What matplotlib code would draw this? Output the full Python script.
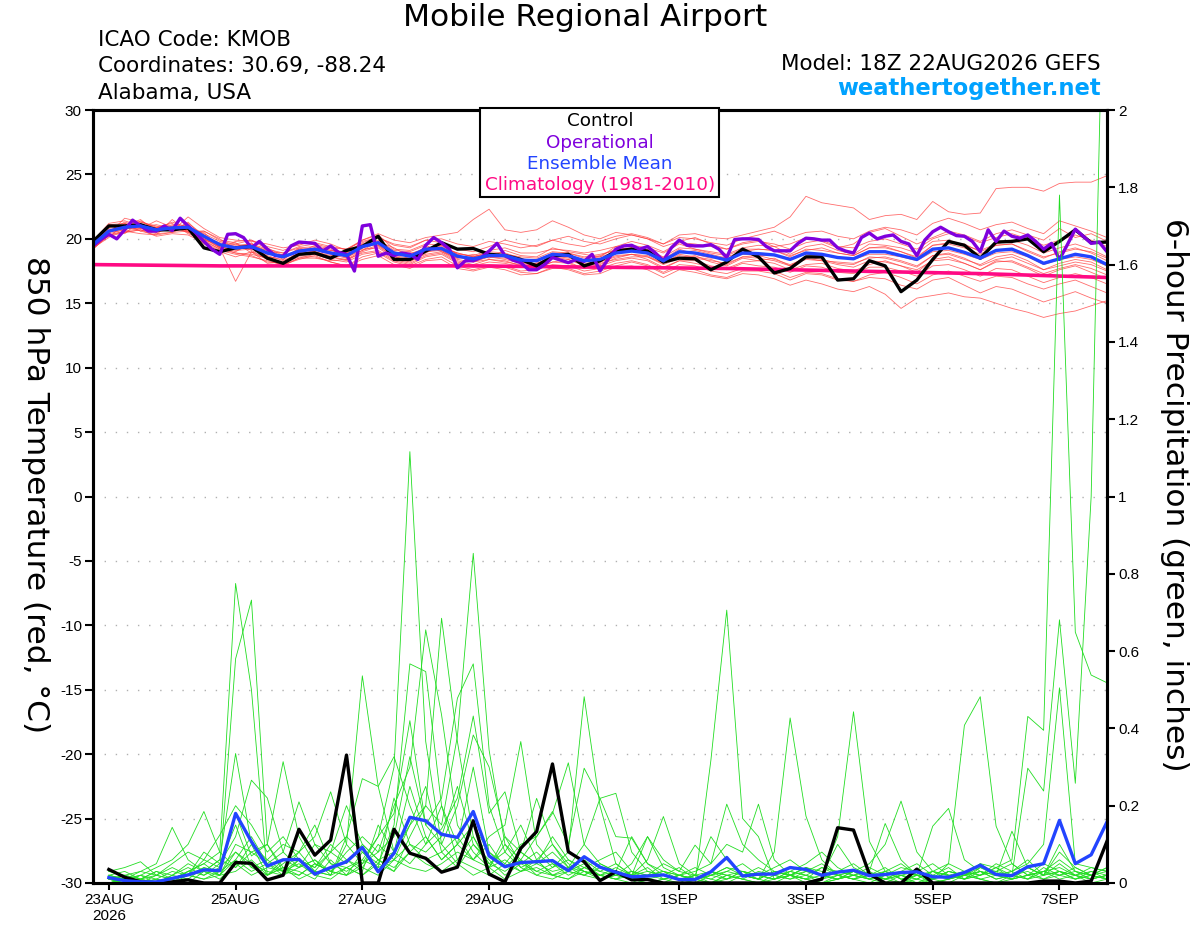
import numpy as np
import matplotlib
matplotlib.use('Agg')
import matplotlib.pyplot as plt
from matplotlib.patches import Rectangle

plt.rcParams['font.family'] = ['Liberation Sans', 'DejaVu Sans']
plt.rcParams['axes.unicode_minus'] = False

# Time axis: hours after 18Z 22AUG2026
hours6 = np.arange(0, 385, 6)      # ensemble / control / mean
hours3 = np.arange(0, 385, 3)      # operational
hours_day = np.arange(0, 385, 24)  # climatology
hours_precip = hours6[1:]

date_ticks = [6, 54, 102, 150, 222, 270, 318, 366]
date_labels = ['23AUG\n2026', '25AUG', '27AUG', '29AUG', '1SEP', '3SEP', '5SEP', '7SEP']

# 850 hPa temperature (C)
temp_control = [19.8, 21.0, 21.0, 21.1, 20.7, 20.7, 20.85, 19.3, 19.0, 19.3,
                19.4, 18.5, 18.1, 18.8, 18.9, 18.5, 19.1, 19.4, 20.2, 18.4,
                18.4, 19.05, 19.7, 19.2, 19.25, 18.8, 18.7, 18.4, 17.9, 18.65,
                18.8, 17.9, 18.3, 19.05, 19.2, 19.05, 18.2, 18.5, 18.45, 17.6,
                18.2, 19.2, 18.6, 17.35, 17.7, 18.6, 18.6, 16.8, 16.9, 18.3,
                17.9, 15.9, 16.8, 18.4, 19.8, 19.5, 18.5, 19.75, 19.8, 20.0,
                19.0, 19.8, 20.7, 19.7, 19.75]

temp_mean = [19.55, 20.6, 20.9, 21.0, 20.7, 20.85, 20.9, 20.2, 19.55, 19.3,
             19.4, 18.9, 18.6, 19.05, 19.2, 18.9, 18.7, 19.4, 19.7, 18.9,
             18.65, 19.2, 19.25, 18.65, 18.45, 18.7, 18.7, 18.35, 18.3, 18.8,
             18.7, 18.3, 18.4, 18.9, 19.05, 18.9, 18.3, 19.0, 18.9, 18.65,
             18.35, 18.9, 18.85, 18.75, 18.4, 18.9, 18.8, 18.55, 18.45, 19.0,
             19.0, 18.7, 18.4, 19.2, 19.3, 18.95, 18.5, 19.1, 19.2, 18.7,
             18.1, 18.45, 18.8, 18.6, 18.0]

temp_oper = [19.45, 19.95, 20.35, 20.0, 20.7, 21.45, 21.0, 20.6, 20.6, 21.0,
             20.65, 21.6, 21.0, 20.45, 19.8, 19.2, 18.8, 20.35, 20.4, 20.1,
             19.3, 19.8, 19.2, 18.7, 18.65, 19.45, 19.75, 19.7, 19.65, 19.05,
             19.45, 18.95, 18.8, 17.5, 21.0, 21.1, 18.65, 18.9, 18.7, 18.9,
             18.8, 18.4, 19.5, 20.1, 19.7, 19.2, 17.75, 18.3, 18.3, 18.55,
             19.05, 19.65, 18.7, 18.35, 18.15, 17.6, 17.6, 18.0, 18.55, 18.35,
             18.15, 18.4, 18.25, 18.8, 17.5, 18.4, 19.2, 19.45, 19.5, 19.2,
             19.4, 18.9, 18.3, 19.3, 19.9, 19.5, 19.45, 19.45, 19.55, 19.2,
             18.55, 19.95, 20.0, 20.0, 19.95, 19.4, 19.07, 19.07, 19.07, 19.65,
             20.05, 20.0, 19.9, 19.9, 19.3, 19.05, 18.9, 20.1, 20.45, 20.0,
             20.2, 20.3, 19.8, 19.6, 18.7, 19.9, 20.55, 20.9, 20.55, 20.25,
             20.2, 19.8, 19.0, 20.7, 19.8, 20.6, 20.2, 20.05, 20.3, 19.8,
             19.2, 19.65, 18.4, 19.55, 20.75, 20.2, 19.65, 19.75, 19.0]

temp_clim = [18.0, 17.95, 17.9, 17.9, 17.9, 17.9, 17.9, 17.85, 17.8,
             17.75, 17.7, 17.6, 17.5, 17.4, 17.3, 17.15, 17.0]

temp_members = [
    [19.8, 21.2, 21.4, 21.0, 20.8, 21.3, 20.9, 20.4, 19.8, 19.6,
     19.9, 19.2, 18.9, 19.4, 19.6, 19.3, 19.2, 19.8, 20.1, 19.5,
     19.3, 19.9, 20.0, 19.6, 19.4, 19.8, 19.6, 19.3, 19.5, 19.9,
     19.6, 19.4, 19.8, 20.2, 20.4, 20.1, 19.6, 20.3, 20.4, 20.1,
     20.0, 20.3, 20.6, 20.9, 21.7, 23.3, 22.8, 22.6, 22.4, 21.5,
     21.8, 21.9, 21.5, 22.9, 22.1, 21.9, 22.0, 23.9, 24.0, 24.0,
     23.7, 24.3, 24.4, 24.4, 24.9],
    [19.5, 20.4, 21.6, 21.3, 20.9, 20.6, 21.7, 20.8, 20.1, 19.9,
     19.8, 19.6, 19.3, 19.5, 19.9, 19.6, 19.1, 19.9, 20.4, 19.9,
     19.7, 20.1, 20.3, 20.5, 21.5, 22.3, 20.7, 20.5, 20.7, 21.4,
     20.9, 20.3, 20.0, 20.5, 20.3, 20.0, 19.4, 19.8, 20.1, 19.6,
     19.2, 19.7, 19.9, 19.4, 19.6, 20.1, 19.8, 19.3, 19.6, 20.5,
     20.8, 20.2, 19.6, 20.1, 20.6, 20.3, 19.8, 20.4, 20.7, 20.3,
     19.9, 20.8, 20.1, 20.4, 19.8],
    [19.2, 20.3, 20.5, 20.7, 20.2, 20.4, 20.3, 19.7, 19.1, 18.8,
     18.6, 18.3, 18.0, 18.4, 18.7, 18.2, 17.9, 18.6, 18.9, 18.2,
     17.9, 18.4, 18.6, 17.9, 17.6, 17.9, 17.8, 17.4, 17.3, 17.8,
     17.6, 17.2, 17.3, 17.8, 17.9, 17.6, 17.0, 17.6, 17.4, 17.1,
     16.9, 17.3, 17.2, 16.9, 16.4, 16.8, 16.5, 16.1, 15.9, 16.3,
     15.7, 14.6, 15.4, 15.6, 15.8, 15.5, 15.4, 15.0, 14.6, 14.3,
     13.9, 14.2, 14.4, 14.8, 15.2],
    [19.9, 21.0, 20.7, 21.3, 21.0, 20.6, 21.1, 20.0, 19.4, 19.0,
     19.7, 18.6, 18.4, 19.3, 18.9, 18.6, 18.3, 19.0, 19.4, 18.6,
     18.3, 18.8, 19.0, 18.3, 18.0, 18.4, 18.3, 17.9, 18.1, 18.5,
     18.2, 17.7, 18.0, 18.5, 18.8, 18.4, 17.8, 18.3, 18.3, 17.9,
     17.7, 18.2, 18.3, 18.1, 17.6, 18.0, 18.1, 17.7, 17.5, 18.0,
     18.3, 17.9, 17.4, 18.4, 18.6, 18.1, 17.6, 18.3, 18.2, 17.7,
     17.1, 17.6, 17.9, 17.4, 16.9],
    [19.3, 20.1, 21.2, 20.6, 20.3, 21.5, 20.5, 20.6, 19.9, 19.7,
     18.9, 19.3, 18.7, 18.9, 19.5, 19.2, 18.5, 19.6, 19.9, 19.1,
     19.0, 19.5, 19.0, 18.5, 18.8, 18.5, 19.1, 18.7, 18.6, 19.3,
     19.0, 18.8, 18.6, 19.4, 19.5, 19.3, 18.9, 19.6, 19.2, 19.0,
     18.8, 19.3, 19.5, 19.4, 18.8, 19.4, 19.6, 19.1, 18.8, 19.6,
     19.5, 19.3, 18.9, 19.8, 19.9, 19.5, 19.1, 19.6, 19.9, 19.5,
     18.9, 19.3, 19.6, 19.2, 18.6],
    [19.6, 20.8, 20.6, 20.8, 21.4, 20.9, 20.5, 19.8, 19.2, 19.6,
     19.1, 18.4, 18.8, 18.7, 18.8, 18.4, 18.9, 19.2, 19.3, 18.5,
     18.2, 18.9, 19.5, 18.8, 18.2, 18.4, 18.2, 18.0, 17.7, 18.2,
     18.4, 17.9, 18.1, 18.4, 18.6, 18.6, 18.0, 18.5, 18.7, 18.2,
     17.9, 18.5, 18.3, 18.5, 17.9, 18.6, 18.4, 18.1, 18.0, 18.6,
     18.5, 18.2, 17.8, 18.7, 18.9, 18.5, 17.9, 18.4, 18.6, 18.1,
     17.6, 17.9, 18.2, 18.0, 17.5],
    [19.4, 20.5, 21.0, 21.5, 20.5, 21.0, 20.6, 20.5, 19.3, 16.7,
     19.0, 18.1, 18.2, 18.9, 19.3, 19.0, 18.6, 19.1, 19.8, 19.3,
     18.6, 19.4, 19.1, 18.5, 18.6, 19.0, 18.9, 18.5, 18.2, 18.9,
     18.9, 18.6, 18.8, 19.1, 19.3, 18.8, 18.4, 19.2, 18.8, 18.5,
     18.6, 19.0, 19.2, 19.1, 18.7, 19.1, 19.3, 18.9, 18.7, 19.3,
     19.4, 19.0, 18.5, 19.5, 19.7, 19.6, 19.0, 19.5, 19.6, 19.0,
     18.5, 19.0, 19.3, 18.9, 18.3],
    [19.7, 20.9, 21.1, 20.6, 20.9, 20.7, 21.2, 20.3, 19.5, 19.4,
     19.5, 19.1, 18.4, 19.2, 19.0, 18.7, 18.9, 19.6, 19.5, 18.8,
     18.9, 19.1, 19.4, 18.9, 18.6, 18.9, 18.6, 18.3, 18.4, 18.7,
     18.5, 18.4, 18.6, 19.0, 19.0, 19.2, 18.5, 18.9, 19.1, 18.8,
     18.5, 18.8, 18.7, 18.7, 18.5, 18.8, 18.7, 18.6, 18.4, 18.8,
     18.8, 18.6, 18.3, 19.0, 19.1, 18.8, 18.4, 18.9, 19.0, 18.6,
     18.0, 18.4, 18.6, 18.4, 17.9],
    [19.5, 20.6, 20.8, 20.9, 20.6, 21.1, 20.8, 20.1, 19.7, 19.5,
     19.6, 19.0, 18.9, 19.3, 19.4, 19.1, 19.0, 19.7, 20.1, 19.6,
     19.4, 19.9, 19.7, 19.2, 19.0, 19.4, 19.9, 19.6, 19.4, 19.9,
     20.2, 19.8, 19.6, 20.0, 20.3, 20.0, 19.6, 20.1, 20.0, 19.7,
     19.5, 20.0, 20.3, 20.6, 20.1, 20.5, 20.6, 20.2, 20.0, 20.6,
     20.9, 20.7, 20.3, 21.2, 21.6, 21.2, 20.7, 21.1, 21.3, 20.8,
     20.4, 21.4, 21.0, 20.6, 20.1],
    [19.4, 20.2, 20.5, 20.7, 20.4, 20.5, 20.6, 19.9, 19.2, 18.9,
     18.8, 18.5, 18.0, 18.5, 18.8, 18.4, 18.2, 18.8, 19.0, 18.3,
     18.0, 18.6, 18.8, 18.1, 17.8, 18.0, 17.9, 17.5, 17.6, 18.0,
     17.9, 17.5, 17.7, 18.1, 18.3, 18.0, 17.4, 18.0, 17.9, 17.5,
     17.3, 17.7, 17.6, 17.5, 17.0, 17.4, 17.3, 16.9, 16.7, 17.2,
     17.4, 17.0, 16.5, 17.2, 17.5, 17.1, 16.7, 17.1, 17.0, 16.5,
     16.1, 16.5, 16.8, 16.3, 15.8],
    [19.9, 21.1, 21.2, 20.9, 21.1, 20.8, 20.6, 20.6, 20.0, 19.2,
     19.3, 18.8, 18.7, 19.0, 19.1, 18.8, 18.5, 19.3, 19.6, 18.7,
     18.5, 19.0, 19.2, 18.6, 18.3, 18.6, 18.5, 18.2, 18.0, 18.6,
     18.6, 18.1, 18.2, 18.7, 18.8, 18.7, 18.1, 18.8, 18.6, 18.4,
     18.0, 18.6, 18.7, 18.4, 18.0, 18.5, 18.3, 18.2, 18.1, 18.5,
     18.6, 18.3, 17.9, 18.7, 18.8, 18.4, 18.0, 18.6, 18.8, 18.3,
     17.6, 18.1, 18.4, 18.2, 17.6],
    [19.3, 20.4, 20.7, 21.1, 20.6, 21.0, 21.0, 20.3, 19.4, 19.1,
     19.2, 18.7, 18.3, 18.9, 19.0, 18.6, 18.4, 19.1, 19.5, 18.6,
     18.4, 19.0, 19.1, 18.4, 18.2, 18.6, 18.4, 18.1, 18.1, 18.6,
     18.4, 18.0, 18.2, 18.6, 18.8, 18.6, 18.1, 18.7, 18.5, 18.3,
     18.1, 18.6, 18.5, 18.3, 17.9, 18.4, 18.3, 18.0, 17.8, 18.3,
     18.2, 17.9, 17.6, 18.3, 18.4, 18.1, 17.6, 18.2, 18.3, 17.8,
     17.3, 17.7, 18.0, 17.7, 17.2],
    [19.7, 20.7, 20.4, 21.4, 20.8, 20.6, 21.3, 20.1, 19.3, 19.8,
     19.9, 19.4, 19.1, 19.6, 19.7, 19.4, 19.2, 19.9, 20.3, 19.2,
     19.1, 19.6, 19.5, 18.8, 18.7, 19.1, 19.3, 18.9, 18.9, 19.2,
     19.1, 18.9, 19.1, 19.4, 19.8, 19.5, 19.0, 19.7, 19.6, 19.4,
     19.2, 19.6, 19.8, 19.6, 19.2, 19.7, 19.9, 19.4, 19.3, 19.8,
     20.0, 19.6, 19.2, 20.0, 20.4, 20.2, 19.7, 20.1, 20.4, 20.0,
     19.5, 19.9, 20.3, 19.9, 19.4],
    [19.5, 20.5, 20.8, 20.8, 20.5, 20.8, 20.7, 20.0, 19.3, 18.9,
     18.7, 18.2, 18.1, 18.6, 18.6, 18.2, 17.9, 18.4, 18.7, 18.0,
     17.7, 18.3, 18.4, 17.7, 17.5, 17.8, 17.6, 17.2, 17.3, 17.7,
     17.7, 17.3, 17.5, 17.9, 18.2, 17.9, 17.3, 17.8, 17.6, 17.2,
     17.0, 17.5, 17.5, 17.3, 16.8, 17.3, 17.2, 16.8, 16.7, 17.0,
     16.9, 16.4, 16.1, 16.8, 17.0, 16.4, 15.8, 16.3, 16.1, 15.6,
     15.1, 15.5, 15.9, 15.4, 15.0],
    [19.8, 20.6, 21.3, 20.9, 20.9, 21.2, 20.4, 19.9, 19.6, 19.4,
     19.6, 19.2, 18.6, 19.2, 19.3, 19.1, 18.8, 19.5, 19.8, 19.0,
     18.8, 19.3, 19.3, 18.9, 18.6, 18.8, 18.8, 18.6, 18.5, 19.0,
     18.9, 18.5, 18.7, 19.2, 19.3, 19.1, 18.6, 19.3, 19.2, 18.9,
     18.7, 19.2, 19.2, 19.1, 18.6, 19.2, 19.1, 18.9, 18.7, 19.3,
     19.3, 19.0, 18.6, 19.5, 19.6, 19.3, 18.8, 19.5, 19.6, 19.1,
     18.6, 18.9, 19.2, 19.0, 18.5],
    [19.2, 20.3, 20.6, 20.4, 20.3, 20.5, 21.0, 19.6, 19.0, 18.6,
     19.0, 18.4, 17.9, 18.5, 18.5, 18.3, 18.4, 18.9, 19.1, 18.4,
     18.1, 18.7, 18.9, 18.2, 17.9, 18.2, 18.1, 17.8, 17.8, 18.2,
     18.1, 17.7, 17.9, 18.3, 18.5, 18.3, 17.7, 18.3, 18.1, 17.8,
     17.6, 18.1, 17.9, 17.8, 17.4, 17.9, 17.8, 17.4, 17.3, 17.8,
     17.8, 17.5, 17.1, 17.9, 18.0, 17.6, 17.1, 17.7, 17.6, 17.1,
     16.6, 17.0, 17.3, 17.0, 16.5],
]

# 6-hour precipitation (inches), from 00Z 23AUG
precip_control = [0.035, 0.015, 0.003, 0.0, 0.003, 0.008, 0.0, 0.0, 0.053, 0.051,
                  0.008, 0.02, 0.139, 0.072, 0.111, 0.331, 0.0, 0.0, 0.139, 0.077,
                  0.064, 0.028, 0.041, 0.161, 0.023, 0.003, 0.09, 0.133, 0.308, 0.081,
                  0.055, 0.006, 0.029, 0.008, 0.009, 0.0, 0.0, 0.0, 0.0, 0.0,
                  0.0, 0.0, 0.0, 0.0, 0.0, 0.01, 0.143, 0.137, 0.023, 0.0,
                  0.0, 0.036, 0.0, 0.0, 0.0, 0.0, 0.0, 0.0, 0.0, 0.005,
                  0.005, 0.0, 0.005, 0.108]

precip_mean = [0.014, 0.006, 0.003, 0.003, 0.012, 0.021, 0.034, 0.032, 0.18, 0.107,
               0.044, 0.06, 0.061, 0.023, 0.04, 0.055, 0.092, 0.029, 0.077, 0.17,
               0.161, 0.126, 0.118, 0.185, 0.07, 0.042, 0.053, 0.055, 0.058, 0.032,
               0.068, 0.041, 0.028, 0.016, 0.018, 0.021, 0.009, 0.009, 0.029, 0.066,
               0.018, 0.023, 0.023, 0.04, 0.035, 0.02, 0.028, 0.033, 0.019, 0.022,
               0.027, 0.029, 0.016, 0.015, 0.027, 0.046, 0.022, 0.019, 0.042, 0.05,
               0.162, 0.05, 0.073, 0.158]

precip_members = [
    [0.02, 0.01, 0.0, 0.0, 0.01, 0.03, 0.05, 0.08, 0.775, 0.50, 0.02, 0.04, 0.03, 0.01, 0.06, 0.02,
     0.05, 0.12, 0.30, 1.116, 0.366, 0.10, 0.05, 0.02, 0.04, 0.01, 0.03, 0.06, 0.02, 0.01, 0.04, 0.02,
     0.01, 0.0, 0.02, 0.03, 0.01, 0.0, 0.318, 0.706, 0.167, 0.12, 0.01, 0.03, 0.02, 0.0, 0.01, 0.02,
     0.03, 0.01, 0.02, 0.0, 0.01, 0.03, 0.02, 0.05, 0.04, 0.06, 0.431, 0.395, 1.78, 0.649, 0.538, 0.518],
    [0.01, 0.0, 0.02, 0.01, 0.0, 0.02, 0.04, 0.03, 0.58, 0.732, 0.10, 0.03, 0.05, 0.02, 0.01, 0.04,
     0.02, 0.06, 0.03, 0.12, 0.20, 0.15, 0.38, 0.853, 0.344, 0.10, 0.04, 0.02, 0.01, 0.03, 0.02, 0.01,
     0.02, 0.01, 0.0, 0.01, 0.02, 0.01, 0.0, 0.02, 0.03, 0.01, 0.0, 0.02, 0.04, 0.02, 0.12, 0.443,
     0.108, 0.03, 0.01, 0.02, 0.0, 0.01, 0.02, 0.03, 0.01, 0.02, 0.297, 0.238, 0.681, 0.258, 1.0, 2.8],
    [0.0, 0.01, 0.0, 0.02, 0.01, 0.0, 0.03, 0.06, 0.335, 0.10, 0.02, 0.05, 0.08, 0.03, 0.02, 0.10,
     0.536, 0.25, 0.08, 0.15, 0.20, 0.685, 0.366, 0.12, 0.05, 0.03, 0.06, 0.02, 0.04, 0.08, 0.482, 0.20,
     0.05, 0.02, 0.01, 0.0, 0.02, 0.01, 0.03, 0.02, 0.01, 0.0, 0.02, 0.01, 0.03, 0.05, 0.02, 0.01,
     0.0, 0.02, 0.04, 0.03, 0.01, 0.05, 0.408, 0.482, 0.147, 0.05, 0.02, 0.03, 0.01, 0.02, 0.0, 0.01],
    [0.03, 0.02, 0.01, 0.0, 0.02, 0.04, 0.02, 0.05, 0.12, 0.266, 0.22, 0.08, 0.04, 0.06, 0.03, 0.02,
     0.08, 0.05, 0.15, 0.567, 0.547, 0.20, 0.10, 0.06, 0.12, 0.15, 0.366, 0.10, 0.05, 0.03, 0.02, 0.04,
     0.02, 0.03, 0.01, 0.02, 0.01, 0.0, 0.02, 0.04, 0.02, 0.01, 0.08, 0.427, 0.173, 0.06, 0.02, 0.01,
     0.02, 0.03, 0.01, 0.0, 0.02, 0.01, 0.03, 0.02, 0.04, 0.01, 0.02, 0.05, 0.03, 0.02, 0.04, 0.03],
    [0.01, 0.0, 0.0, 0.01, 0.03, 0.02, 0.06, 0.04, 0.18, 0.07, 0.10, 0.314, 0.12, 0.05, 0.03, 0.08,
     0.12, 0.08, 0.20, 0.30, 0.655, 0.435, 0.15, 0.08, 0.04, 0.10, 0.06, 0.12, 0.18, 0.311, 0.10, 0.05,
     0.03, 0.02, 0.04, 0.01, 0.0, 0.02, 0.12, 0.06, 0.02, 0.01, 0.03, 0.02, 0.01, 0.04, 0.02, 0.03,
     0.01, 0.02, 0.0, 0.01, 0.03, 0.02, 0.01, 0.04, 0.02, 0.03, 0.05, 0.10, 0.505, 0.05, 0.04, 0.03],
    [0.0, 0.01, 0.02, 0.0, 0.01, 0.02, 0.01, 0.03, 0.06, 0.12, 0.05, 0.08, 0.21, 0.10, 0.05, 0.04,
     0.06, 0.12, 0.18, 0.42, 0.15, 0.22, 0.478, 0.567, 0.20, 0.08, 0.04, 0.06, 0.02, 0.03, 0.05, 0.02,
     0.04, 0.02, 0.06, 0.172, 0.05, 0.02, 0.01, 0.0, 0.02, 0.01, 0.03, 0.02, 0.0, 0.01, 0.02, 0.03,
     0.02, 0.01, 0.03, 0.02, 0.01, 0.0, 0.02, 0.03, 0.01, 0.02, 0.04, 0.02, 0.05, 0.02, 0.01, 0.02],
    [0.02, 0.03, 0.01, 0.02, 0.04, 0.02, 0.08, 0.05, 0.15, 0.04, 0.02, 0.06, 0.04, 0.10, 0.08, 0.12,
     0.27, 0.25, 0.327, 0.20, 0.10, 0.14, 0.22, 0.432, 0.18, 0.236, 0.08, 0.05, 0.03, 0.04, 0.10, 0.219,
     0.232, 0.08, 0.03, 0.02, 0.01, 0.02, 0.0, 0.01, 0.03, 0.02, 0.01, 0.02, 0.04, 0.02, 0.01, 0.03,
     0.05, 0.10, 0.212, 0.08, 0.03, 0.02, 0.01, 0.02, 0.03, 0.02, 0.01, 0.03, 0.02, 0.04, 0.02, 0.01],
    [0.0, 0.01, 0.02, 0.04, 0.06, 0.10, 0.185, 0.08, 0.04, 0.10, 0.06, 0.03, 0.08, 0.12, 0.236, 0.10,
     0.05, 0.08, 0.12, 0.327, 0.15, 0.10, 0.20, 0.383, 0.30, 0.12, 0.08, 0.219, 0.10, 0.05, 0.03, 0.02,
     0.01, 0.03, 0.02, 0.01, 0.02, 0.03, 0.05, 0.10, 0.08, 0.204, 0.06, 0.02, 0.01, 0.0, 0.02, 0.01,
     0.02, 0.01, 0.0, 0.02, 0.01, 0.03, 0.02, 0.01, 0.0, 0.02, 0.03, 0.01, 0.02, 0.03, 0.01, 0.02],
    [0.01, 0.02, 0.03, 0.05, 0.144, 0.06, 0.03, 0.02, 0.10, 0.08, 0.05, 0.03, 0.06, 0.04, 0.08, 0.20,
     0.10, 0.06, 0.04, 0.08, 0.12, 0.06, 0.10, 0.15, 0.08, 0.05, 0.10, 0.12, 0.185, 0.10, 0.297, 0.219,
     0.12, 0.116, 0.05, 0.03, 0.02, 0.01, 0.02, 0.04, 0.03, 0.02, 0.01, 0.03, 0.02, 0.04, 0.03, 0.02,
     0.01, 0.03, 0.05, 0.02, 0.147, 0.193, 0.06, 0.03, 0.02, 0.01, 0.02, 0.03, 0.04, 0.02, 0.03, 0.01],
    [0.02, 0.01, 0.03, 0.02, 0.05, 0.08, 0.06, 0.124, 0.20, 0.15, 0.08, 0.12, 0.06, 0.04, 0.10, 0.06,
     0.04, 0.10, 0.06, 0.15, 0.25, 0.08, 0.12, 0.06, 0.10, 0.04, 0.08, 0.05, 0.12, 0.06, 0.04, 0.03,
     0.05, 0.02, 0.12, 0.06, 0.03, 0.098, 0.05, 0.204, 0.10, 0.06, 0.03, 0.02, 0.04, 0.03, 0.02, 0.01,
     0.03, 0.154, 0.06, 0.02, 0.01, 0.03, 0.02, 0.04, 0.03, 0.05, 0.02, 0.03, 0.06, 0.03, 0.02, 0.04],
    [0.03, 0.04, 0.055, 0.02, 0.01, 0.03, 0.05, 0.02, 0.08, 0.04, 0.06, 0.10, 0.08, 0.15, 0.05, 0.03,
     0.06, 0.04, 0.22, 0.10, 0.06, 0.08, 0.04, 0.10, 0.06, 0.02, 0.05, 0.08, 0.04, 0.06, 0.03, 0.02,
     0.03, 0.12, 0.05, 0.02, 0.04, 0.01, 0.02, 0.03, 0.05, 0.02, 0.04, 0.06, 0.03, 0.02, 0.01, 0.02,
     0.04, 0.02, 0.03, 0.05, 0.02, 0.04, 0.01, 0.02, 0.05, 0.03, 0.06, 0.02, 0.08, 0.04, 0.02, 0.03],
    [0.01, 0.0, 0.01, 0.03, 0.02, 0.05, 0.03, 0.06, 0.04, 0.08, 0.10, 0.04, 0.02, 0.05, 0.03, 0.06,
     0.03, 0.15, 0.08, 0.05, 0.10, 0.20, 0.06, 0.12, 0.04, 0.06, 0.03, 0.05, 0.08, 0.04, 0.06, 0.03,
     0.02, 0.05, 0.12, 0.04, 0.02, 0.01, 0.03, 0.02, 0.01, 0.03, 0.02, 0.01, 0.02, 0.01, 0.03, 0.05,
     0.02, 0.01, 0.02, 0.03, 0.05, 0.02, 0.03, 0.01, 0.02, 0.134, 0.04, 0.02, 0.03, 0.01, 0.02, 0.01],
    [0.0, 0.0, 0.01, 0.0, 0.02, 0.01, 0.04, 0.02, 0.06, 0.03, 0.05, 0.02, 0.06, 0.03, 0.08, 0.05,
     0.10, 0.06, 0.08, 0.25, 0.12, 0.06, 0.10, 0.30, 0.08, 0.04, 0.06, 0.03, 0.05, 0.02, 0.04, 0.06,
     0.08, 0.03, 0.02, 0.05, 0.03, 0.02, 0.01, 0.03, 0.02, 0.04, 0.02, 0.03, 0.05, 0.08, 0.04, 0.02,
     0.01, 0.03, 0.02, 0.01, 0.03, 0.05, 0.03, 0.02, 0.04, 0.02, 0.01, 0.02, 0.10, 0.03, 0.02, 0.01],
    [0.02, 0.01, 0.0, 0.01, 0.0, 0.03, 0.02, 0.04, 0.08, 0.05, 0.03, 0.02, 0.04, 0.06, 0.02, 0.12,
     0.08, 0.04, 0.06, 0.10, 0.08, 0.12, 0.25, 0.10, 0.05, 0.08, 0.15, 0.06, 0.10, 0.04, 0.02, 0.05,
     0.03, 0.01, 0.02, 0.03, 0.02, 0.04, 0.02, 0.01, 0.03, 0.02, 0.01, 0.02, 0.03, 0.02, 0.10, 0.04,
     0.02, 0.04, 0.01, 0.02, 0.03, 0.01, 0.02, 0.05, 0.02, 0.03, 0.01, 0.04, 0.02, 0.01, 0.03, 0.02],
    [0.01, 0.02, 0.01, 0.03, 0.01, 0.02, 0.03, 0.01, 0.05, 0.02, 0.04, 0.03, 0.02, 0.05, 0.03, 0.02,
     0.04, 0.02, 0.06, 0.04, 0.03, 0.05, 0.08, 0.06, 0.04, 0.12, 0.05, 0.03, 0.02, 0.04, 0.03, 0.02,
     0.01, 0.02, 0.03, 0.02, 0.01, 0.02, 0.03, 0.01, 0.02, 0.01, 0.03, 0.02, 0.01, 0.02, 0.01, 0.03,
     0.02, 0.01, 0.03, 0.02, 0.01, 0.02, 0.01, 0.03, 0.02, 0.01, 0.04, 0.02, 0.03, 0.02, 0.01, 0.02],
    [0.0, 0.01, 0.0, 0.0, 0.01, 0.02, 0.01, 0.02, 0.03, 0.06, 0.02, 0.04, 0.01, 0.03, 0.02, 0.04,
     0.02, 0.05, 0.03, 0.08, 0.05, 0.03, 0.06, 0.04, 0.02, 0.05, 0.03, 0.04, 0.02, 0.01, 0.03, 0.01,
     0.02, 0.01, 0.0, 0.01, 0.02, 0.01, 0.0, 0.02, 0.01, 0.0, 0.01, 0.02, 0.01, 0.0, 0.01, 0.02,
     0.01, 0.0, 0.02, 0.01, 0.0, 0.01, 0.02, 0.01, 0.0, 0.01, 0.02, 0.01, 0.03, 0.01, 0.02, 0.04],
]

# Colours
RED = '#ff3b3b'
GREEN = '#22dd22'
PURPLE = '#7f00dd'
BLUE = '#2244ff'
PINK = '#ff0a84'
CYAN = '#00a2ff'
WIDE = ['DejaVu Sans']  # wider face for the header and axis titles

W, H = 1200, 927
fig = plt.figure(figsize=(W / 100, H / 100), dpi=100)
ax = fig.add_axes([93 / W, 1 - 883 / H, (1107 - 93) / W, (883 - 110) / H])
ax2 = ax.twinx()

# Temperature
for member in temp_members:
    ax.plot(hours6, member, color=RED, lw=0.6, alpha=0.75)
ax.plot(hours_day, temp_clim, color=PINK, lw=2.6)
ax.plot(hours6, temp_control, color='black', lw=2.4)
ax.plot(hours3, temp_oper, color=PURPLE, lw=2.4)
ax.plot(hours6, temp_mean, color=BLUE, lw=2.4)

# Precipitation
for member in precip_members:
    ax2.plot(hours_precip, member, color=GREEN, lw=0.6)
ax2.plot(hours_precip, precip_control, color='black', lw=2.4)
ax2.plot(hours_precip, precip_mean, color=BLUE, lw=2.4)

ax.set_xlim(0, 384)
ax.set_ylim(-30, 30)
ax2.set_ylim(0, 2)

ax.set_yticks(np.arange(-30, 31, 5))
ax.set_yticklabels([str(v) for v in range(-30, 31, 5)])
ax2.set_yticks(np.arange(0, 2.01, 0.2))
ax2.set_yticklabels(['0', '0.2', '0.4', '0.6', '0.8', '1', '1.2', '1.4', '1.6', '1.8', '2'])
ax.set_xticks(date_ticks)
ax.set_xticklabels(date_labels)

for y in range(-25, 30, 5):
    ax.axhline(y, color='#b0b0b0', lw=1.0, linestyle=(0, (1, 7)), zorder=0)

ax.tick_params(axis='y', direction='out', length=6, width=1.5, labelsize=11, pad=2)
ax.tick_params(axis='x', direction='out', length=5, width=1.5, labelsize=11, pad=2)
ax2.tick_params(axis='y', direction='out', length=6, width=1.5, labelsize=11, pad=2)
for a in (ax, ax2):
    for s in a.spines.values():
        s.set_linewidth(2.2)

# Header text
fig.text(585 / W, 1 - 18 / H, 'Mobile Regional Airport', ha='center', va='center',
         fontsize=22.5, family=WIDE)
fig.text(98 / W, 1 - 40 / H, 'ICAO Code: KMOB', ha='left', va='center', fontsize=15.5, family=WIDE)
fig.text(98 / W, 1 - 66 / H, 'Coordinates: 30.69, -88.24', ha='left', va='center',
         fontsize=15.5, family=WIDE)
fig.text(98 / W, 1 - 93 / H, 'Alabama, USA', ha='left', va='center', fontsize=15.5, family=WIDE)
fig.text(1101 / W, 1 - 64 / H, 'Model: 18Z 22AUG2026 GEFS', ha='right', va='center',
         fontsize=15.5, family=WIDE)
fig.text(1101 / W, 1 - 89 / H, 'weathertogether.net', ha='right', va='center', fontsize=16.3,
         fontweight='bold', color=CYAN, family=WIDE)

# Axis labels
fig.text(35 / W, 1 - 495 / H, '850 hPa Temperature (red, °C)', rotation=-90,
         ha='center', va='center', fontsize=22.5, family=WIDE)
fig.text(1175 / W, 1 - 495 / H, '6-hour Precipitation (green, inches)', rotation=-90,
         ha='center', va='center', fontsize=22.5, family=WIDE)

# Legend box
fig.patches.append(Rectangle((480 / W, 1 - 197 / H), 239 / W, 89 / H, transform=fig.transFigure,
                             facecolor='white', edgecolor='black', lw=1.5, zorder=5))
legend_items = [('Control', 'black'), ('Operational', PURPLE),
                ('Ensemble Mean', BLUE), ('Climatology (1981-2010)', PINK)]
for k, (label, col) in enumerate(legend_items):
    fig.text(600 / W, 1 - (121 + 21.5 * k) / H, label, ha='center', va='center',
             fontsize=13.2, color=col, zorder=6, family=WIDE)

fig.savefig('out.png', dpi=100)
